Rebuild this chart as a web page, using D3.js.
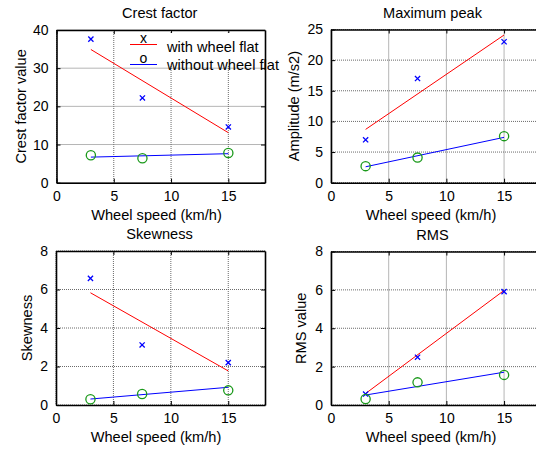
<!DOCTYPE html>
<html><head><meta charset="utf-8">
<script src="https://cdn.jsdelivr.net/npm/d3@7"></script>
<style>
html,body{margin:0;padding:0;background:#fff;overflow:hidden;}
text{font-family:"Liberation Sans",Arial,sans-serif;fill:#000;}
</style></head>
<body><svg id="c" width="536" height="450"></svg>
<script>
// ---- data ----
const speeds = [3, 7.5, 15];
const fitSpeeds = [3, 15];
const xTicks = [0, 5, 10, 15];

const crestWith = [37.6, 22.2, 14.6];
const crestWithout = [7.2, 6.4, 7.8];
const crestWithFit = [34.9, 13.1];
const crestWithoutFit = [6.7, 7.6];
const crestTicks = [0, 10, 20, 30, 40];

const peakWith = [7.0, 17.0, 23.0];
const peakWithout = [2.7, 4.1, 7.6];
const peakWithFit = [8.7, 24.1];
const peakWithoutFit = [2.6, 7.4];
const peakTicks = [0, 5, 10, 15, 20, 25];

const skewWith = [6.58, 3.12, 2.2];
const skewWithout = [0.3, 0.57, 0.76];
const skewWithFit = [5.83, 1.77];
const skewWithoutFit = [0.31, 0.92];
const skewTicks = [0, 2, 4, 6, 8];

const rmsWith = [0.57, 2.49, 5.91];
const rmsWithout = [0.31, 1.18, 1.57];
const rmsWithFit = [0.6, 5.97];
const rmsWithoutFit = [0.52, 1.71];
const rmsTicks = [0, 2, 4, 6, 8];

const titles = ["Crest factor", "Maximum peak", "Skewness", "RMS"];
const yLabels = ["Crest factor value", "Amplitude (m/s2)", "Skewness", "RMS value"];
const xLabel = "Wheel speed (km/h)";
const legendLabels = ["with wheel flat", "without wheel flat"];
const legendMarks = ["x", "o"];

// ---- layout ----
const panels = [
  {title: titles[0], ylab: yLabels[0], w: crestWith, wo: crestWithout, wf: crestWithFit, wof: crestWithoutFit, yt: crestTicks,
   L: 56.5, R: 265, T: 30, B: 182.7, ylx: 21, legend: true},
  {title: titles[1], ylab: yLabels[1], w: peakWith, wo: peakWithout, wf: peakWithFit, wof: peakWithoutFit, yt: peakTicks,
   L: 331, R: 541, T: 29.5, B: 182.7, ylx: 294},
  {title: titles[2], ylab: yLabels[2], w: skewWith, wo: skewWithout, wf: skewWithFit, wof: skewWithoutFit, yt: skewTicks,
   L: 56, R: 265, T: 251, B: 405, ylx: 27},
  {title: titles[3], ylab: yLabels[3], w: rmsWith, wo: rmsWithout, wf: rmsWithFit, wof: rmsWithoutFit, yt: rmsTicks,
   L: 331, R: 541, T: 251.5, B: 405, ylx: 301}
];

const svg = d3.select("#c");
const FS = 14;
const LFS = 14.6;

panels.forEach(p => {
  const x = d3.scaleLinear().domain([0, 18.2]).range([p.L, p.R]);
  const y = d3.scaleLinear().domain([p.yt[0], p.yt[p.yt.length-1]]).range([p.B, p.T]);
  const g = svg.append("g");

  // grid
  g.selectAll(".gx").data(xTicks).enter().append("line")
    .attr("x1", d => x(d)).attr("x2", d => x(d)).attr("y1", p.T).attr("y2", p.B)
    .attr("stroke", "#6a6a6a").attr("stroke-width", 1).attr("stroke-dasharray", "1,1");
  g.selectAll(".gy").data(p.yt).enter().append("line")
    .attr("x1", p.L).attr("x2", p.R).attr("y1", d => y(d)).attr("y2", d => y(d))
    .attr("stroke", "#6a6a6a").attr("stroke-width", 1).attr("stroke-dasharray", "1,1");

  // axes (ticks inward, box)
  const axB = d3.axisBottom(x).tickValues(xTicks).tickSizeInner(-4).tickSizeOuter(0).tickPadding(8).tickFormat(d3.format("d"));
  const axT = d3.axisTop(x).tickValues(xTicks).tickSizeInner(-4).tickSizeOuter(0).tickFormat("");
  const axL = d3.axisLeft(y).tickValues(p.yt).tickSizeInner(-4).tickSizeOuter(0).tickPadding(8).tickFormat(d3.format("d"));
  const axR = d3.axisRight(y).tickValues(p.yt).tickSizeInner(-4).tickSizeOuter(0).tickFormat("");
  const styleAx = s => {
    s.selectAll("path").attr("stroke", "#000").attr("stroke-width", 1.6);
    s.selectAll("line").attr("stroke", "#000").attr("stroke-width", 1);
    s.selectAll("text").attr("font-size", FS).attr("font-family", "Liberation Sans, Arial, sans-serif").attr("fill", "#000");
  };
  g.append("g").attr("transform", `translate(0,${p.B})`).call(axB).call(styleAx);
  g.append("g").attr("transform", `translate(0,${p.T})`).call(axT).call(styleAx);
  g.append("g").attr("transform", `translate(${p.L},0)`).call(axL).call(styleAx);
  g.append("g").attr("transform", `translate(${p.R},0)`).call(axR).call(styleAx);

  // fit lines
  const line = d3.line().x((d, i) => x(fitSpeeds[i])).y(d => y(d));
  g.append("path").datum(p.wf).attr("d", line).attr("fill", "none").attr("stroke", "#ff0000").attr("stroke-width", 1);
  g.append("path").datum(p.wof).attr("d", line).attr("fill", "none").attr("stroke", "#0000ff").attr("stroke-width", 1);

  // markers: x (blue)
  const s = 2.6;
  p.w.forEach((v, i) => {
    const cx = x(speeds[i]), cy = y(v);
    g.append("path").attr("d", `M${cx-s},${cy-s}L${cx+s},${cy+s}M${cx-s},${cy+s}L${cx+s},${cy-s}`)
      .attr("stroke", "#0000ff").attr("stroke-width", 1.3).attr("fill", "none");
  });
  // markers: o (green)
  g.selectAll(".o").data(p.wo).enter().append("circle")
    .attr("cx", (d, i) => x(speeds[i])).attr("cy", d => y(d)).attr("r", 4.6)
    .attr("fill", "none").attr("stroke", "#1a991a").attr("stroke-width", 1.3);

  // title and labels
  g.append("text").attr("x", (p.L + Math.min(p.R, 536)) / 2 - 1).attr("y", p.T - 12)
    .attr("text-anchor", "middle").attr("font-size", LFS).text(p.title);
  g.append("text").attr("x", p.L + 100).attr("y", p.B + 37)
    .attr("text-anchor", "middle").attr("font-size", LFS).text(xLabel);
  g.append("text").attr("transform", `translate(${p.ylx + 5},${(p.T + p.B) / 2}) rotate(-90)`)
    .attr("text-anchor", "middle").attr("font-size", LFS).text(p.ylab);

  if (p.legend) {
    const lg = g.append("g");
    lg.append("rect").attr("x", 124).attr("y", 33).attr("width", 139).attr("height", 33).attr("fill", "#fff");
    const rows = [{c: "#ff0000", ly: 44.5, ty: 51.5, my: 43.3}, {c: "#0000ff", ly: 64.5, ty: 70, my: 62.7}];
    rows.forEach((r, i) => {
      lg.append("line").attr("x1", 130).attr("x2", 157).attr("y1", r.ly).attr("y2", r.ly)
        .attr("stroke", r.c).attr("stroke-width", 1);
      lg.append("text").attr("x", 143.5).attr("y", r.my).attr("text-anchor", "middle").attr("font-size", FS).text(legendMarks[i]);
      lg.append("text").attr("x", 167).attr("y", r.ty).attr("font-size", LFS).text(legendLabels[i]);
    });
  }
});
</script>
</body></html>
